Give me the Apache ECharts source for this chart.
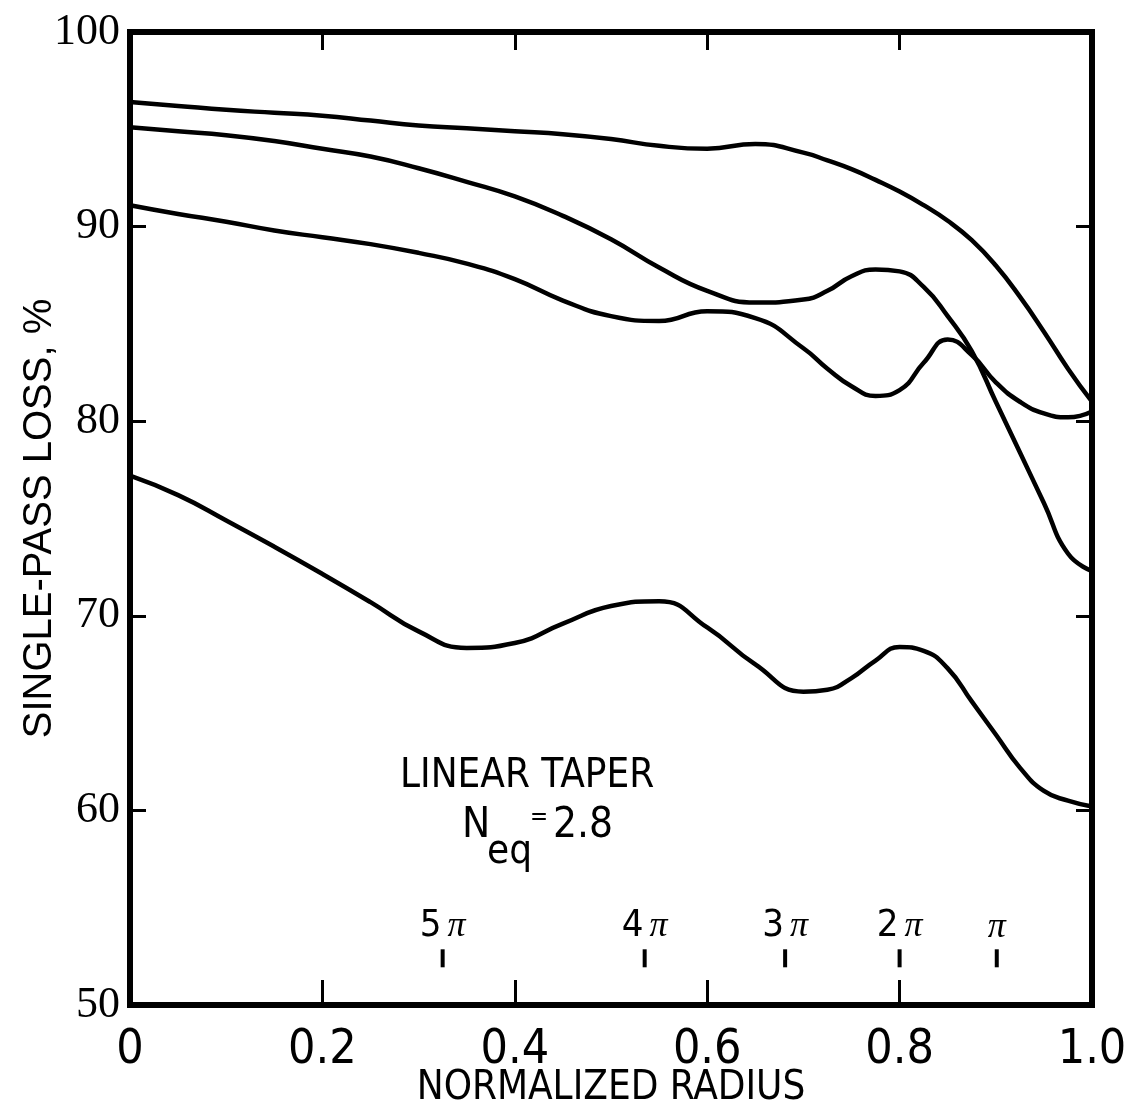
<!DOCTYPE html>
<html>
<head>
<meta charset="utf-8">
<script src="https://cdn.jsdelivr.net/npm/echarts@6/dist/echarts.min.js"></script>
<style>
  html, body { margin: 0; padding: 0; background: #fff; }
  #chart { width: 1132px; height: 1112px; }
</style>
</head>
<body>
<div id="chart"></div>
<script>
// normalized radius grid shared by all curves
const radius = [0, 0.05, 0.1, 0.15, 0.2, 0.25, 0.3, 0.35, 0.4, 0.45, 0.5, 0.55, 0.6, 0.65,
  0.7, 0.725, 0.75, 0.775, 0.8, 0.825, 0.85, 0.875, 0.9, 0.925, 0.95, 0.975, 1.0]
// single-pass loss (%) of the four curves, top to bottom
const lossA = [96.4, 96.2, 96.0, 95.85, 95.7, 95.45, 95.2, 95.05, 94.9, 94.75, 94.5, 94.15, 94.0, 94.25,
  93.8, 93.4, 92.95, 92.4, 91.8, 91.1, 90.3, 89.3, 88.0, 86.4, 84.6, 82.7, 81.0]
const lossB = [95.1, 94.9, 94.7, 94.4, 94.0, 93.6, 93.0, 92.3, 91.55, 90.55, 89.35, 87.9, 86.7, 86.1,
  86.25, 86.7, 87.45, 87.8, 87.7, 86.9, 85.4, 83.6, 81.0, 78.4, 75.8, 73.2, 72.3]
const lossC = [91.1, 90.65, 90.25, 89.8, 89.45, 89.1, 88.65, 88.1, 87.3, 86.2, 85.4, 85.15, 85.65, 85.3,
  83.75, 82.7, 81.8, 81.3, 81.6, 83.0, 84.2, 83.4, 82.0, 81.0, 80.4, 80.2, 80.5]
const lossD = [77.2, 76.2, 74.9, 73.55, 72.15, 70.7, 69.2, 68.35, 68.6, 69.6, 70.5, 70.75, 69.4, 67.5,
  66.1, 66.2, 66.8, 67.7, 68.4, 68.2, 67.3, 65.6, 63.9, 62.2, 61.0, 60.5, 60.2]
// phase markers along the bottom
const phaseX = [0.325, 0.535, 0.681, 0.800, 0.901]
const phaseLabels = ['5', '4', '3', '2', '']
const phaseY = 52.4

const FONT = "'Liberation Sans Narrow', 'DejaVu Sans Condensed', 'Liberation Sans', sans-serif"

const chart = echarts.init(document.getElementById('chart'))

const pairs = ys => radius.map((x, i) => [x, ys[i]])
const curve = ys => ({
  type: 'line',
  data: pairs(ys),
  smooth: 0.5,
  symbol: 'none',
  lineStyle: { color: '#000', width: 4.5 },
  z: 3
})

const axisLine = { show: true, onZero: false, lineStyle: { color: '#000', width: 6, cap: 'square' } }

const option = {
  animation: false,
  backgroundColor: '#fff',
  grid: { left: 130, right: 40, top: 32, bottom: 107, outerBoundsMode: 'none', containLabel: false },
  xAxis: [
    {
      type: 'value', min: 0, max: 1, interval: 0.2, position: 'bottom',
      axisLine: axisLine,
      axisTick: { inside: true, length: 25, lineStyle: { color: '#000', width: 3 } },
      axisLabel: {
        color: '#000', fontFamily: FONT, fontSize: 48, margin: 22,
        formatter: v => v === 0 ? '0' : v.toFixed(1)
      },
      splitLine: { show: false },
      name: 'NORMALIZED RADIUS', nameLocation: 'middle', nameGap: 64, nameMoveOverlap: false,
      nameTextStyle: { color: '#000', fontFamily: FONT, fontSize: 40 }
    },
    {
      type: 'value', min: 0, max: 1, interval: 0.2, position: 'top',
      axisLine: axisLine,
      axisTick: { inside: true, length: 18, lineStyle: { color: '#000', width: 3 } },
      axisLabel: { show: false },
      splitLine: { show: false }
    }
  ],
  yAxis: [
    {
      type: 'value', min: 50, max: 100, interval: 10, position: 'left',
      axisLine: axisLine,
      axisTick: { inside: true, length: 16, lineStyle: { color: '#000', width: 3 } },
      axisLabel: { color: '#000', fontFamily: "'Liberation Serif', serif", fontSize: 44, margin: 10 },
      splitLine: { show: false },
      name: 'SINGLE-PASS LOSS, %', nameLocation: 'middle', nameGap: 70, nameRotate: 90, nameMoveOverlap: false,
      nameTextStyle: { color: '#000', fontFamily: "'Liberation Sans', sans-serif", fontSize: 40 }
    },
    {
      type: 'value', min: 50, max: 100, interval: 10, position: 'right',
      axisLine: axisLine,
      axisTick: { inside: true, length: 16, lineStyle: { color: '#000', width: 3 } },
      axisLabel: { show: false },
      splitLine: { show: false }
    }
  ],
  graphic: [
    { type: 'text', left: 400, top: 757, style: { text: 'LINEAR TAPER', fill: '#000', font: '40px ' + FONT } },
    { type: 'text', left: 462, top: 805, style: { text: 'N', fill: '#000', font: '42px ' + FONT } },
    { type: 'text', left: 487, top: 833, style: { text: 'eq', fill: '#000', font: '40px ' + FONT } },
    { type: 'text', left: 530, top: 806, style: { text: '=', fill: '#000', font: '24px ' + FONT } },
    { type: 'text', left: 553, top: 805, style: { text: '2.8', fill: '#000', font: '42px ' + FONT } }
  ],
  series: [
    curve(lossA),
    curve(lossB),
    curve(lossC),
    curve(lossD),
    {
      type: 'scatter',
      data: phaseX.map((x, i) => ({ value: [x, phaseY], name: phaseLabels[i] })),
      symbol: 'rect',
      symbolSize: [4, 18],
      itemStyle: { color: '#000', opacity: 1 },
      label: {
        show: true, position: 'top', distance: 4, color: '#000',
        formatter: p => (p.name ? '{n|' + p.name + '}' : '') + '{p|\u03c0}',
        rich: {
          n: { fontFamily: FONT, fontSize: 38, color: '#000', padding: [0, 6, 0, 0] },
          p: { fontFamily: "'Liberation Serif', serif", fontStyle: 'italic', fontSize: 36, color: '#000' }
        }
      },
      z: 4
    }
  ]
}

chart.setOption(option)
</script>
</body>
</html>
